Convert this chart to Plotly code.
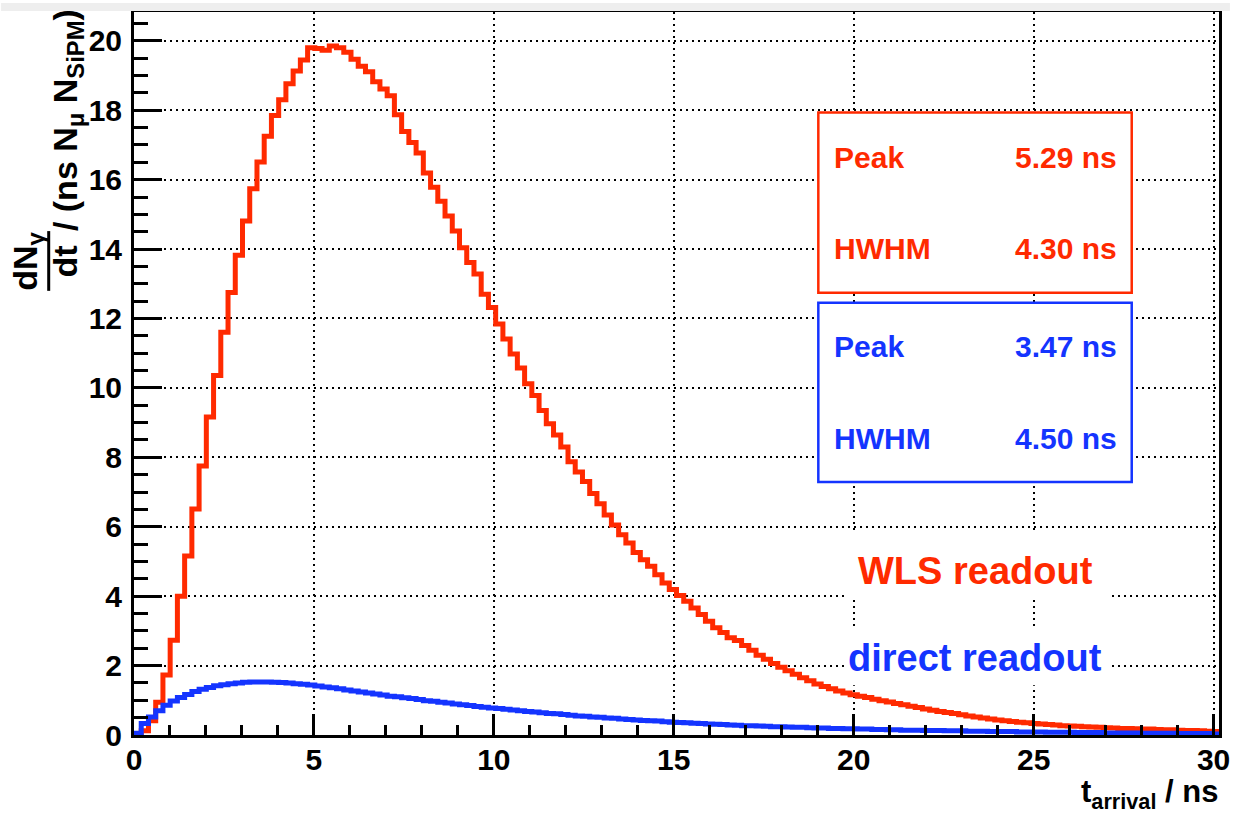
import plotly.graph_objects as go

# ---------------- data ----------------
bin_width = 0.201  # ns, 150 bins spanning the frame
n_bins = 150

wls_values = [
    0.00, 0.12, 0.41, 0.94, 1.73, 2.73, 4.00, 5.16, 6.51, 7.75,
    9.16, 10.36, 11.60, 12.75, 13.82, 14.81, 15.74, 16.51, 17.25, 17.85,
    18.30, 18.76, 19.13, 19.45, 19.80, 19.78, 19.73, 19.85, 19.80, 19.67,
    19.47, 19.27, 19.11, 18.82, 18.61, 18.42, 17.87, 17.39, 17.07, 16.77,
    16.19, 15.78, 15.38, 14.95, 14.52, 14.04, 13.61, 13.28, 12.70, 12.32,
    11.84, 11.41, 10.98, 10.57, 10.12, 9.78, 9.35, 8.97, 8.64, 8.30,
    7.87, 7.58, 7.30, 6.96, 6.66, 6.34, 6.05, 5.77, 5.53, 5.26,
    5.05, 4.86, 4.62, 4.38, 4.19, 4.02, 3.85, 3.66, 3.47, 3.28,
    3.09, 2.95, 2.80, 2.72, 2.58, 2.44, 2.30, 2.18, 2.06, 1.95,
    1.85, 1.75, 1.65, 1.56, 1.47, 1.40, 1.33, 1.27, 1.21, 1.16,
    1.12, 1.08, 1.03, 0.99, 0.95, 0.91, 0.87, 0.83, 0.79, 0.75,
    0.71, 0.68, 0.65, 0.62, 0.58, 0.55, 0.52, 0.49, 0.46, 0.43,
    0.41, 0.39, 0.37, 0.35, 0.33, 0.32, 0.30, 0.29, 0.27, 0.26,
    0.25, 0.24, 0.23, 0.22, 0.21, 0.20, 0.19, 0.19, 0.18, 0.17,
    0.17, 0.16, 0.15, 0.15, 0.14, 0.13, 0.13, 0.12, 0.11, 0.10,
]

direct_values = [
    0.05, 0.33, 0.52, 0.70, 0.86, 0.98, 1.08, 1.17, 1.25, 1.32,
    1.37, 1.42, 1.45, 1.48, 1.50, 1.52, 1.53, 1.53, 1.53, 1.52,
    1.51, 1.50, 1.48, 1.46, 1.44, 1.41, 1.38, 1.36, 1.33, 1.30,
    1.27, 1.24, 1.21, 1.18, 1.15, 1.12, 1.10, 1.07, 1.05, 1.02,
    0.99, 0.97, 0.94, 0.92, 0.89, 0.87, 0.85, 0.82, 0.80, 0.78,
    0.76, 0.74, 0.72, 0.70, 0.68, 0.66, 0.64, 0.62, 0.61, 0.59,
    0.57, 0.55, 0.54, 0.52, 0.51, 0.49, 0.48, 0.46, 0.45, 0.43,
    0.42, 0.41, 0.40, 0.38, 0.37, 0.36, 0.35, 0.34, 0.33, 0.32,
    0.31, 0.30, 0.29, 0.28, 0.27, 0.27, 0.26, 0.25, 0.24, 0.24,
    0.23, 0.22, 0.22, 0.21, 0.20, 0.20, 0.19, 0.19, 0.18, 0.18,
    0.17, 0.17, 0.16, 0.16, 0.15, 0.15, 0.14, 0.14, 0.14, 0.13,
    0.13, 0.13, 0.12, 0.12, 0.12, 0.11, 0.11, 0.11, 0.10, 0.10,
    0.10, 0.10, 0.09, 0.09, 0.09, 0.09, 0.08, 0.08, 0.08, 0.08,
    0.07, 0.07, 0.07, 0.07, 0.06, 0.06, 0.06, 0.06, 0.06, 0.05,
    0.05, 0.05, 0.05, 0.05, 0.04, 0.04, 0.04, 0.04, 0.04, 0.03,
]

wls_stats = [("Peak", "5.29 ns"), ("HWHM", "4.30 ns")]
direct_stats = [("Peak", "3.47 ns"), ("HWHM", "4.50 ns")]
wls_label = "WLS readout"
direct_label = "direct readout"

x_range = [0, 30.15]
y_range = [0, 20.83]

RED = "#ff2a00"
BLUE = "#1434ff"
FONT = "Liberation Sans"

# ---------------- layout geometry (pixels) ----------------
W, H = 1239, 814
L, R, T, B = 134, 1228, 9, 735


def px_x(p):
    return (p - L) / (R - L)


def px_y(p):
    return (B - p) / (B - T)


edges = [i * bin_width for i in range(n_bins + 1)]


def step_xy(vals):
    xs = edges[:]
    ys = list(vals) + [vals[-1]]
    return xs, ys


fig = go.Figure()
for vals, col in [(wls_values, RED), (direct_values, BLUE)]:
    xs, ys = step_xy(vals)
    fig.add_trace(go.Scatter(x=xs, y=ys, mode="lines", line=dict(color=col, width=5, shape="hv"),
                             showlegend=False, hoverinfo="skip"))

fig.update_layout(
    width=W, height=H,
    margin=dict(l=L, r=W - R, t=T, b=H - B),
    paper_bgcolor="white", plot_bgcolor="white",
    showlegend=False,
)

axis_common = dict(
    showline=True, linecolor="black", linewidth=3, mirror=True,
    showgrid=True, gridcolor="black", gridwidth=2, griddash="2px,4px",
    zeroline=False, ticks="inside", tickcolor="black", tickwidth=2.5,
    tickfont=dict(family=FONT, size=30, color="black", weight="bold"),
)

fig.update_xaxes(range=x_range, dtick=5, tick0=0, ticklen=21,
                 minor=dict(dtick=1, ticks="inside", ticklen=10, tickcolor="black", tickwidth=2.5, showgrid=False),
                 ticklabelstandoff=-4, **axis_common)
fig.update_yaxes(range=y_range, dtick=2, tick0=0, ticklen=28,
                 minor=dict(dtick=0.5, ticks="inside", ticklen=14, tickcolor="black", tickwidth=2.5, showgrid=False),
                 ticklabelstandoff=3, **axis_common)

shapes = []
annotations = []

# light gray strip at the very top
shapes.append(dict(type="rect", xref="paper", yref="paper", x0=px_x(0), x1=px_x(W), y0=px_y(8), y1=px_y(0),
                   fillcolor="#eeeeee", line=dict(width=0), layer="above"))


# stat boxes
def stat_box(y0, y1, rows, col, stats):
    shapes.append(dict(type="rect", xref="paper", yref="paper", x0=px_x(824), x1=px_x(1140),
                       y0=px_y(y1), y1=px_y(y0), fillcolor="white", line=dict(color=col, width=2.5), layer="above"))
    for (name, val), yc in zip(stats, rows):
        annotations.append(dict(xref="paper", yref="paper", x=px_x(838), y=px_y(yc), xanchor="left", yanchor="middle",
                                text="<b>%s</b>" % name, showarrow=False,
                                font=dict(family=FONT, size=30, color=col)))
        annotations.append(dict(xref="paper", yref="paper", x=px_x(1127), y=px_y(yc), xanchor="right", yanchor="middle",
                                text="<b>%s</b>" % val, showarrow=False,
                                font=dict(family=FONT, size=30, color=col)))


stat_box(110, 291, [155, 246], RED, wls_stats)
stat_box(301, 481, [345, 437], BLUE, direct_stats)

# series labels with white backgrounds
for (yt, yb, yc, txt, col) in [(533, 598, 570, wls_label, RED), (627, 685, 658, direct_label, BLUE)]:
    shapes.append(dict(type="rect", xref="paper", yref="paper", x0=px_x(850), x1=px_x(1117),
                       y0=px_y(yb), y1=px_y(yt), fillcolor="white", line=dict(width=0), layer="above"))
    annotations.append(dict(xref="paper", yref="paper", x=px_x(982), y=px_y(yc), xanchor="center", yanchor="middle",
                            text="<b>%s</b>" % txt, showarrow=False,
                            font=dict(family=FONT, size=38, color=col)))

# x axis title
annotations.append(dict(xref="paper", yref="paper", x=px_x(1229), y=px_y(772), xanchor="right", yanchor="top",
                        text="<b>t<sub>arrival</sub> / ns</b>", showarrow=False,
                        font=dict(family=FONT, size=31, color="black")))

# y axis title: fraction dN_gamma / dt, followed by / (ns N_mu N_SiPM)
annotations.append(dict(xref="paper", yref="paper", x=px_x(27), y=px_y(259), xanchor="center", yanchor="middle",
                        text="<b>dN<sub>γ</sub></b>", textangle=-90, showarrow=False,
                        font=dict(family=FONT, size=34, color="black")))
annotations.append(dict(xref="paper", yref="paper", x=px_x(64), y=px_y(260), xanchor="center", yanchor="middle",
                        text="<b>dt</b>", textangle=-90, showarrow=False,
                        font=dict(family=FONT, size=34, color="black")))
shapes.append(dict(type="line", xref="paper", yref="paper", x0=px_x(48), x1=px_x(48), y0=px_y(289), y1=px_y(229),
                   line=dict(color="black", width=3)))
annotations.append(dict(xref="paper", yref="paper", x=px_x(67), y=px_y(118), xanchor="center", yanchor="middle",
                        text="<b>/ (ns N<sub>μ</sub> N<sub>SiPM</sub>)</b>", textangle=-90, showarrow=False,
                        font=dict(family=FONT, size=34, color="black")))

fig.update_layout(shapes=shapes, annotations=annotations)

fig.write_html("out.html")
